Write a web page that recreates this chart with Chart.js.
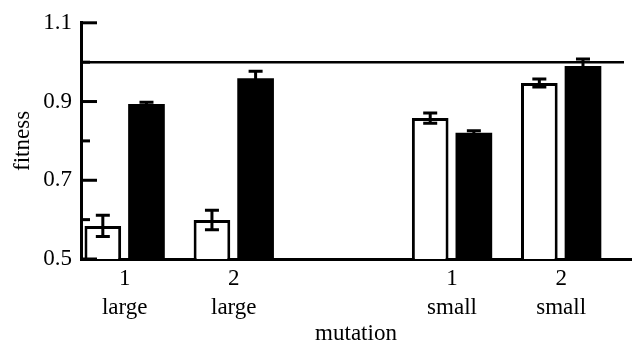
<!DOCTYPE html>
<html>
<head>
<meta charset="utf-8">
<script src="https://cdn.jsdelivr.net/npm/chart.js@4.4.1/dist/chart.umd.min.js"></script>
<style>
  html, body { margin: 0; padding: 0; background: #fff; }
  #wrap { width: 636px; height: 348px; }
</style>
</head>
<body>
<div id="wrap"><canvas id="c"></canvas></div>
<script>
// data
const positions = [1, 2, 4, 5];
const mutationNumbers = ['1', '2', '1', '2'];
const mutationSizes = ['large', 'large', 'small', 'small'];
const openMeans = [0.584, 0.599, 0.858, 0.947];
const openErrors = [0.027, 0.025, 0.013, 0.010];
const filledMeans = [0.894, 0.959, 0.821, 0.990];
const filledErrors = [0.004, 0.018, 0.005, 0.018];
const yMajorTicks = [0.5, 0.7, 0.9, 1.1];
const yMinorTicks = [0.6, 0.8, 1.0];
const referenceLevel = 1.0;

const FONT = { family: '"Liberation Serif", "DejaVu Serif", serif', size: 23 };

const errorBars = [openErrors, filledErrors];
const means = [openMeans, filledMeans];

const figurePlugin = {
    id: 'figure',
    beforeDatasetsDraw(chart) {
        const { ctx, chartArea, scales: { y } } = chart;
        const py = y.getPixelForValue(referenceLevel);
        ctx.save();
        ctx.strokeStyle = '#000';
        ctx.lineWidth = 2.5;
        ctx.beginPath();
        ctx.moveTo(chartArea.left, py);
        ctx.lineTo(chartArea.right - 7, py);
        ctx.stroke();
        ctx.restore();
    },
    afterDatasetsDraw(chart) {
        const { ctx, chartArea, scales: { y } } = chart;
        ctx.save();
        ctx.strokeStyle = '#000';
        ctx.lineWidth = 3;
        // error bars
        means.forEach((vals, di) => {
            const meta = chart.getDatasetMeta(di);
            vals.forEach((m, i) => {
                const x = meta.data[i].x;
                const top = y.getPixelForValue(m + errorBars[di][i]);
                const bot = y.getPixelForValue(m - errorBars[di][i]);
                ctx.beginPath();
                ctx.moveTo(x, top); ctx.lineTo(x, bot);
                ctx.moveTo(x - 7, top); ctx.lineTo(x + 7, top);
                ctx.moveTo(x - 7, bot); ctx.lineTo(x + 7, bot);
                ctx.stroke();
            });
        });
        // inward ticks on the y axis
        const left = chartArea.left;
        yMajorTicks.forEach(v => {
            const py = y.getPixelForValue(v);
            ctx.beginPath(); ctx.moveTo(left, py); ctx.lineTo(left + 16, py); ctx.stroke();
        });
        yMinorTicks.forEach(v => {
            const py = y.getPixelForValue(v);
            ctx.beginPath(); ctx.moveTo(left, py); ctx.lineTo(left + 9, py); ctx.stroke();
        });
        ctx.restore();
    }
};

new Chart(document.getElementById('c'), {
    type: 'bar',
    data: {
        datasets: [
            {
                label: 'open',
                data: positions.map((p, i) => ({ x: p, y: openMeans[i] })),
                backgroundColor: '#fff',
                borderColor: '#000',
                borderWidth: 3,
            },
            {
                label: 'filled',
                data: positions.map((p, i) => ({ x: p, y: filledMeans[i] })),
                backgroundColor: '#000',
                borderColor: '#000',
                borderWidth: 0,
            },
        ],
    },
    options: {
        responsive: true,
        maintainAspectRatio: false,
        animation: false,
        devicePixelRatio: 1,
        categoryPercentage: 0.8,
        barPercentage: 0.84,
        layout: { padding: { top: 20, right: 5, left: 0, bottom: 0 } },
        plugins: { legend: { display: false }, tooltip: { enabled: false } },
        scales: {
            x: {
                type: 'linear',
                offset: false,
                min: 0.6,
                max: 5.64,
                afterBuildTicks: s => { s.ticks = positions.map(v => ({ value: v })); },
                afterFit: s => { s.height = 89; },
                ticks: {
                    color: '#000',
                    font: { ...FONT, lineHeight: 1.25 },
                    padding: 6,
                    autoSkip: false,
                    maxRotation: 0,
                    callback: v => {
                        const i = positions.indexOf(v);
                        return i < 0 ? '' : [mutationNumbers[i], mutationSizes[i]];
                    },
                },
                grid: { display: false, drawTicks: false, offset: false },
                border: { display: true, color: '#000', width: 3 },
                title: { display: true, text: 'mutation', color: '#000', font: FONT, padding: { top: 0, bottom: 0 } },
            },
            y: {
                min: 0.5,
                max: 1.1,
                afterBuildTicks: s => { s.ticks = yMajorTicks.map(v => ({ value: v })); },
                afterFit: s => { s.width = 81; },
                ticks: {
                    color: '#000',
                    font: FONT,
                    padding: 9,
                    autoSkip: false,
                    callback: v => v.toFixed(1),
                },
                grid: { display: false, drawTicks: false },
                border: { display: true, color: '#000', width: 3 },
                title: { display: true, text: 'fitness', color: '#000', font: FONT, padding: { top: 9, bottom: 0 } },
            },
        },
    },
    plugins: [figurePlugin],
});
</script>
</body>
</html>
